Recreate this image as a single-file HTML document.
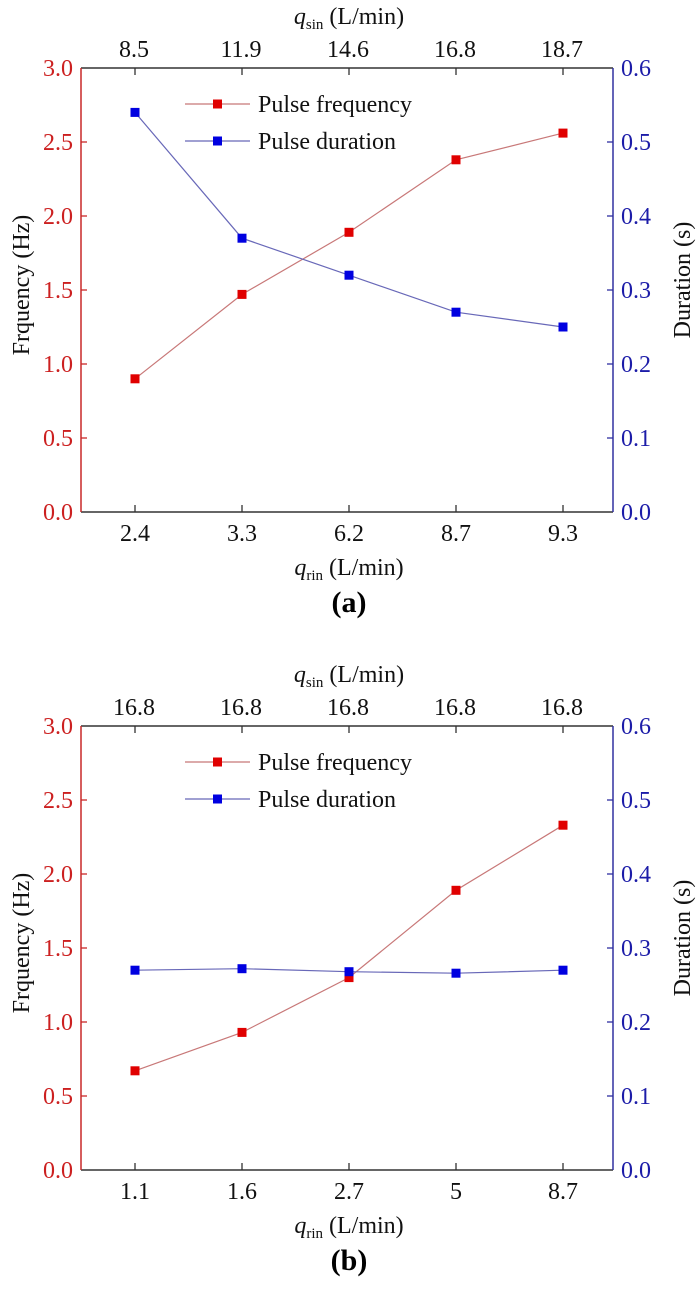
<!DOCTYPE html>
<html><head><meta charset="utf-8"><style>
html,body{margin:0;padding:0;background:#fff;}
svg{display:block;font-family:"Liberation Serif",serif;}
</style></head><body>
<svg width="700" height="1293" viewBox="0 0 700 1293" xmlns="http://www.w3.org/2000/svg">
<defs>
<g id="frame">
  <line x1="81" y1="0" x2="613" y2="0" stroke="#333" stroke-width="1.5"/>
  <line x1="81" y1="444" x2="613" y2="444" stroke="#333" stroke-width="1.5"/>
  <line x1="81" y1="0" x2="81" y2="444" stroke="#c82828" stroke-width="1.5"/>
  <line x1="613" y1="0" x2="613" y2="444" stroke="#3030a0" stroke-width="1.5"/>
  <g stroke="#333" stroke-width="1.3">
    <line x1="135" y1="444" x2="135" y2="437"/><line x1="242" y1="444" x2="242" y2="437"/>
    <line x1="349" y1="444" x2="349" y2="437"/><line x1="456" y1="444" x2="456" y2="437"/>
    <line x1="563" y1="444" x2="563" y2="437"/>
    <line x1="135" y1="0" x2="135" y2="7"/><line x1="242" y1="0" x2="242" y2="7"/>
    <line x1="349" y1="0" x2="349" y2="7"/><line x1="456" y1="0" x2="456" y2="7"/>
    <line x1="563" y1="0" x2="563" y2="7"/>
  </g>
  <g stroke="#c82828" stroke-width="1.3">
    <line x1="81" y1="370" x2="87" y2="370"/><line x1="81" y1="296" x2="87" y2="296"/>
    <line x1="81" y1="222" x2="87" y2="222"/><line x1="81" y1="148" x2="87" y2="148"/>
    <line x1="81" y1="74" x2="87" y2="74"/>
  </g>
  <g stroke="#3030a0" stroke-width="1.3">
    <line x1="613" y1="370" x2="607" y2="370"/><line x1="613" y1="296" x2="607" y2="296"/>
    <line x1="613" y1="222" x2="607" y2="222"/><line x1="613" y1="148" x2="607" y2="148"/>
    <line x1="613" y1="74" x2="607" y2="74"/>
  </g>
  <g font-size="24" fill="#cc2020" text-anchor="end">
    <text x="73" y="452">0.0</text><text x="73" y="378">0.5</text><text x="73" y="304">1.0</text>
    <text x="73" y="230">1.5</text><text x="73" y="156">2.0</text><text x="73" y="82">2.5</text>
    <text x="73" y="8">3.0</text>
  </g>
  <g font-size="24" fill="#1c1ca8" text-anchor="start">
    <text x="621" y="452">0.0</text><text x="621" y="378">0.1</text><text x="621" y="304">0.2</text>
    <text x="621" y="230">0.3</text><text x="621" y="156">0.4</text><text x="621" y="82">0.5</text>
    <text x="621" y="8">0.6</text>
  </g>
  <text font-size="24" fill="#111" transform="translate(29,217) rotate(-90)" text-anchor="middle">Frquency (Hz)</text>
  <text font-size="24" fill="#111" transform="translate(690,212) rotate(-90)" text-anchor="middle">Duration (s)</text>
  <line x1="185" y1="36" x2="250" y2="36" stroke="#c87878" stroke-width="1.2"/>
  <rect x="213" y="31.5" width="9" height="9" fill="#e00000"/>
  <line x1="185" y1="73" x2="250" y2="73" stroke="#6868b8" stroke-width="1.2"/>
  <rect x="213" y="68.5" width="9" height="9" fill="#0000e0"/>
  <text x="258" y="44" font-size="24" fill="#111">Pulse frequency</text>
  <text x="258" y="81" font-size="24" fill="#111">Pulse duration</text>
</g>
</defs>

<g transform="translate(0,68)">
  <use href="#frame"/>
  <g font-size="24" fill="#111" text-anchor="middle">
    <text x="134" y="-11">8.5</text><text x="241" y="-11">11.9</text><text x="348" y="-11">14.6</text>
    <text x="455" y="-11">16.8</text><text x="562" y="-11">18.7</text>
    <text x="135" y="473">2.4</text><text x="242" y="473">3.3</text><text x="349" y="473">6.2</text>
    <text x="456" y="473">8.7</text><text x="563" y="473">9.3</text>
  </g>
  <text x="349" y="-44" font-size="24" fill="#111" text-anchor="middle"><tspan font-style="italic">q</tspan><tspan font-size="15" dy="5">sin</tspan><tspan dy="-5"> (L/min)</tspan></text>
  <text x="349" y="507" font-size="24" fill="#111" text-anchor="middle"><tspan font-style="italic">q</tspan><tspan font-size="15" dy="5">rin</tspan><tspan dy="-5"> (L/min)</tspan></text>
  <text x="349" y="544" font-size="30" font-weight="bold" fill="#000" text-anchor="middle">(a)</text>
  <polyline points="135,310.8 242,226.4 349,164.3 456,91.8 563,65.1" fill="none" stroke="#c87878" stroke-width="1.2"/>
  <polyline points="135,44.4 242,170.2 349,207.2 456,244.2 563,259" fill="none" stroke="#6868b8" stroke-width="1.2"/>
  <g fill="#e00000">
    <rect x="130.5" y="306.3" width="9" height="9"/><rect x="237.5" y="221.9" width="9" height="9"/>
    <rect x="344.5" y="159.8" width="9" height="9"/><rect x="451.5" y="87.3" width="9" height="9"/>
    <rect x="558.5" y="60.6" width="9" height="9"/>
  </g>
  <g fill="#0000e0">
    <rect x="130.5" y="39.9" width="9" height="9"/><rect x="237.5" y="165.7" width="9" height="9"/>
    <rect x="344.5" y="202.7" width="9" height="9"/><rect x="451.5" y="239.7" width="9" height="9"/>
    <rect x="558.5" y="254.5" width="9" height="9"/>
  </g>
</g>

<g transform="translate(0,726)">
  <use href="#frame"/>
  <g font-size="24" fill="#111" text-anchor="middle">
    <text x="134" y="-11">16.8</text><text x="241" y="-11">16.8</text><text x="348" y="-11">16.8</text>
    <text x="455" y="-11">16.8</text><text x="562" y="-11">16.8</text>
    <text x="135" y="473">1.1</text><text x="242" y="473">1.6</text><text x="349" y="473">2.7</text>
    <text x="456" y="473">5</text><text x="563" y="473">8.7</text>
  </g>
  <text x="349" y="-44" font-size="24" fill="#111" text-anchor="middle"><tspan font-style="italic">q</tspan><tspan font-size="15" dy="5">sin</tspan><tspan dy="-5"> (L/min)</tspan></text>
  <text x="349" y="507" font-size="24" fill="#111" text-anchor="middle"><tspan font-style="italic">q</tspan><tspan font-size="15" dy="5">rin</tspan><tspan dy="-5"> (L/min)</tspan></text>
  <text x="349" y="544" font-size="30" font-weight="bold" fill="#000" text-anchor="middle">(b)</text>
  <polyline points="135,344.8 242,306.4 349,251.6 456,164.3 563,99.2" fill="none" stroke="#c87878" stroke-width="1.2"/>
  <polyline points="135,244.2 242,242.7 349,245.7 456,247.2 563,244.2" fill="none" stroke="#6868b8" stroke-width="1.2"/>
  <g fill="#e00000">
    <rect x="130.5" y="340.3" width="9" height="9"/><rect x="237.5" y="301.9" width="9" height="9"/>
    <rect x="344.5" y="247.1" width="9" height="9"/><rect x="451.5" y="159.8" width="9" height="9"/>
    <rect x="558.5" y="94.7" width="9" height="9"/>
  </g>
  <g fill="#0000e0">
    <rect x="130.5" y="239.7" width="9" height="9"/><rect x="237.5" y="238.2" width="9" height="9"/>
    <rect x="344.5" y="241.2" width="9" height="9"/><rect x="451.5" y="242.7" width="9" height="9"/>
    <rect x="558.5" y="239.7" width="9" height="9"/>
  </g>
</g>
</svg>
</body></html>
